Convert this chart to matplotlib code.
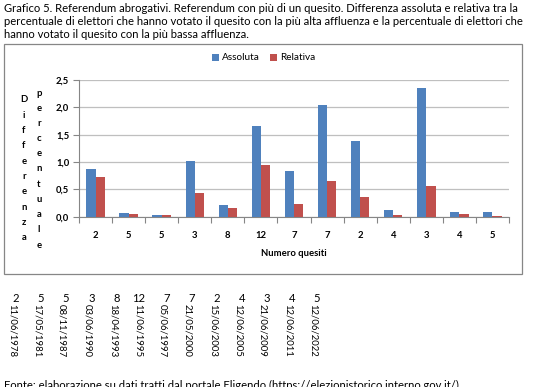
import matplotlib
matplotlib.use("Agg")
import matplotlib.pyplot as plt
from matplotlib.patches import Rectangle
import numpy as np

plt.rcParams['font.family'] = ['Lato', 'DejaVu Sans']

# ---------------- data
quesiti   = ["2", "5", "5", "3", "8", "12", "7", "7", "2", "4", "3", "4", "5"]
date_ref  = ["11/06/1978", "17/05/1981", "08/11/1987", "03/06/1990", "18/04/1993",
             "11/06/1995", "05/06/1997", "21/05/2000", "15/06/2003", "12/06/2005",
             "21/06/2009", "12/06/2011", "12/06/2022"]
assoluta  = [0.88, 0.06, 0.04, 1.02, 0.21, 1.66, 0.83, 2.04, 1.39, 0.12, 2.36, 0.085, 0.09]
relativa  = [0.72, 0.05, 0.03, 0.44, 0.16, 0.945, 0.24, 0.65, 0.36, 0.03, 0.555, 0.05, 0.02]

title_lines = ["Grafico 5. Referendum abrogativi. Referendum con più di un quesito. Differenza assoluta e relativa tra la",
               "percentuale di elettori che hanno votato il quesito con la più alta affluenza e la percentuale di elettori che",
               "hanno votato il quesito con la più bassa affluenza."]
fonte = "Fonte: elaborazione su dati tratti dal portale Eligendo (https://elezionistorico.interno.gov.it/)"

W, H = 560, 387
blue = "#4F81BD"
red  = "#C0504D"
body_fs = 8.1

fig = plt.figure(figsize=(W / 100, H / 100), dpi=100)

def fx(px):
    return px / W

def fy(py):
    return 1 - py / H

# ---------------- title
for i, line in enumerate(title_lines):
    fig.text(fx(4), fy(8 + i * 13.5), line, fontsize=body_fs, va="center", ha="left")

# ---------------- chart frame
fig.patches.append(Rectangle((fx(4), fy(274)), fx(518), (274 - 44) / H,
                             transform=fig.transFigure, fill=False,
                             edgecolor="#868686", linewidth=0.9))

# ---------------- axes
ax = fig.add_axes([fx(79), fy(216.7), fx(509 - 79), (216.7 - 80) / H])
x = np.arange(len(quesiti))
w = 0.28
ax.bar(x - w / 2, assoluta, width=w, color=blue, label="Assoluta", zorder=3)
ax.bar(x + w / 2, relativa, width=w, color=red, label="Relativa", zorder=3)

ax.set_xlim(-0.5, len(quesiti) - 0.5)
ax.set_ylim(0, 2.5)
ax.set_yticks(np.arange(0, 2.51, 0.5))
ax.set_yticklabels([f"{v:.1f}".replace(".", ",") for v in np.arange(0, 2.51, 0.5)],
                   fontsize=6.8, fontweight="bold")
ax.yaxis.grid(True, color="#BFBFBF", linewidth=0.9, zorder=0)
ax.set_axisbelow(True)

ax.set_xticks(np.arange(-0.5, len(quesiti), 1.0))
ax.set_xticklabels([])
ax.set_xticks(x, minor=True)
ax.set_xticklabels(quesiti, minor=True, fontsize=6.8, fontweight="bold")
ax.tick_params(axis="x", which="minor", length=0, pad=10)
ax.tick_params(axis="x", which="major", length=4, color="#868686")
ax.tick_params(axis="y", length=4, color="#868686", pad=3)

for s in ["top", "right"]:
    ax.spines[s].set_visible(False)
for s in ["left", "bottom"]:
    ax.spines[s].set_color("#868686")

ax.set_xlabel("Numero quesiti", fontsize=6.8, fontweight="bold", labelpad=7)

fig.legend(*ax.get_legend_handles_labels(), loc="center",
           bbox_to_anchor=(fx(264), fy(58)), bbox_transform=fig.transFigure,
           ncol=2, frameon=False, fontsize=7.2, handlelength=0.7, handleheight=0.7,
           handletextpad=0.3, columnspacing=1.0, borderpad=0)

# ---------------- vertical y label (stacked letters)
for i, ch in enumerate("Differenza"):
    fig.text(fx(24), fy(100 + i * 15.3), ch, fontsize=6.8, fontweight="bold",
             ha="center", va="center")
for i, ch in enumerate("percentuale"):
    fig.text(fx(39), fy(93 + i * 15.2), ch, fontsize=6.8, fontweight="bold",
             ha="center", va="center")

# ---------------- table below chart
col_x = [12, 37, 62, 88, 113, 138, 163, 188, 213, 238, 263, 288, 313]
for cx, q, d in zip(col_x, quesiti, date_ref):
    fig.text(fx(cx + 7), fy(298.5), q, fontsize=body_fs, ha="right", va="center")
    fig.text(fx(cx), fy(303.5), d, fontsize=6.9, ha="center", va="top", rotation=270)

# ---------------- source (cut at bottom edge, as in the original)
fig.text(fx(4), fy(380), fonte, fontsize=body_fs, ha="left", va="top")

fig.savefig("out.png", dpi=100)
